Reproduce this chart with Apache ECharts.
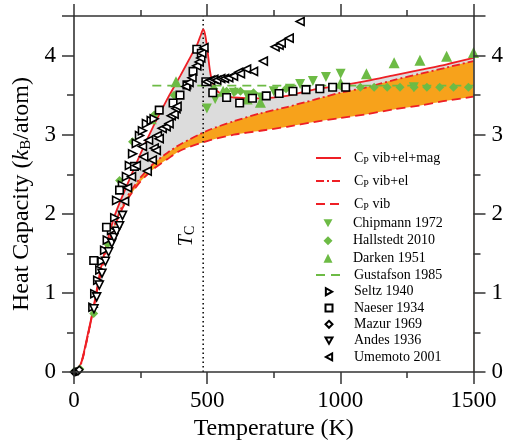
<!DOCTYPE html>
<html><head><meta charset="utf-8">
<script src="https://cdn.jsdelivr.net/npm/echarts@6/dist/echarts.min.js"></script>
<style>html,body{margin:0;padding:0;background:#fff}#c{width:506px;height:446px}</style>
</head><body><div id="c"></div>
<script>
// ---- curves ----
const tMag = [0,25,50,75,100,125,150,175,200,250,300,350,400,440,460,475,485,492,500,510,520,535,550,575,600,650,700,800,900,1000,1100,1200,1300,1400,1500];
const cMag = [0,0.1,0.45,0.85,1.3,1.65,1.95,2.17,2.37,2.76,3.12,3.45,3.75,4.0,4.12,4.25,4.33,4.27,4.1,3.82,3.66,3.56,3.52,3.48,3.47,3.46,3.46,3.49,3.57,3.62,3.68,3.75,3.82,3.89,3.97];
const tEl = [0,25,50,75,100,125,150,175,200,250,300,350,400,500,600,700,800,900,1000,1100,1200,1300,1400,1500];
const cEl = [0,0.09,0.43,0.83,1.25,1.58,1.84,2.05,2.22,2.46,2.64,2.77,2.88,3.05,3.17,3.27,3.35,3.44,3.53,3.6,3.69,3.77,3.85,3.93];
const tVib = [0,25,50,75,100,125,150,175,200,250,300,350,400,500,600,700,800,900,1000,1100,1200,1300,1400,1500];
const cVib = [0,0.09,0.43,0.83,1.25,1.57,1.82,2.02,2.18,2.41,2.57,2.69,2.8,2.92,3.0,3.05,3.1,3.16,3.21,3.26,3.32,3.37,3.43,3.48];
const tGus = [294,1500];
const cGus = [3.62,3.62];
const tCurie = [485,485];
const cCurie = [0,4.5];
// ---- measurements ----
const tChip = [499,530,600,650,703,750,811,849,897,946,1001,1276];
const cChip = [3.33,3.45,3.53,3.5,3.47,3.55,3.58,3.64,3.68,3.73,3.77,3.6];
const tHall = [2,22,74,126,171,220,301,376,525,573,606,625,674,796,1000,1075,1127,1176,1224,1277,1325,1373,1425,1481];
const cHall = [0.01,0.04,0.74,1.62,2.42,2.91,3.25,3.5,3.58,3.55,3.55,3.55,3.53,3.58,3.62,3.6,3.6,3.6,3.6,3.6,3.6,3.6,3.6,3.6];
const tDark = [290,383,560,650,700,1001,1098,1202,1299,1399,1500];
const cDark = [3.2,3.67,3.55,3.45,3.41,3.65,3.77,3.91,3.94,3.99,4.04];
const tSeltz = [71,78,89,97,105,115,125,141,153,160,182,197,208,220,234,246,257,272,290,301];
const cSeltz = [0.82,0.99,1.16,1.29,1.4,1.54,1.67,1.79,1.95,2.17,2.36,2.47,2.61,2.76,2.89,2.99,3.05,3.14,3.18,3.2];
const tNaes = [74,122,171,227,320,372,398,424,447,461,478,495,521,573,622,670,722,770,822,871,923,971,1020];
const cNaes = [1.41,1.83,2.3,2.6,3.31,3.4,3.5,3.63,3.8,4.08,4.03,3.67,3.53,3.47,3.4,3.46,3.49,3.52,3.55,3.57,3.58,3.6,3.6];
const tMaz = [0,3,6,10,15,20];
const cMaz = [0,0,0.002,0.005,0.01,0.03];
const tAndes = [75,85,95,105,118,130,142,150,160,171,182];
const cAndes = [0.8,0.95,1.1,1.25,1.4,1.52,1.63,1.7,1.78,1.85,1.98];
const tUme = [190,201,216,234,257,262,275,280,294,301,309,313,320,331,346,357,365,376,383,387,420,432,443,461,470,476,480,488,499,513,525,536,551,565,581,599,618,625,648,674,711,755,770,778,808,849];
const cUme = [2.16,2.33,2.47,2.61,2.85,2.72,2.54,2.93,2.68,2.83,2.8,2.99,2.95,3.08,3.1,3.14,3.24,3.26,3.33,3.36,3.61,3.66,3.72,3.87,3.92,3.97,4.03,4.1,3.67,3.69,3.7,3.69,3.71,3.71,3.72,3.74,3.79,3.77,3.83,3.8,3.93,4.11,4.13,4.16,4.22,4.43];
// tick labels
const xTicks = [0,500,1000,1500];
const yTicks = [0,1,2,3,4];

const pts = (xs, ys) => xs.map((x, i) => [x, ys[i]]);
const FONT = "'Liberation Serif','Times New Roman',serif";
const RED = '#ee1f25', GREEN = '#6dbb45', ORANGE = '#f7a21b', GRAY = '#dcdcdc';
const TRI_DOWN = 'path://M0,0 L10,0 L5,9 Z';
const TRI_LEFT = 'path://M9,0 L9,10 L0,5 Z';
const TRI_RIGHT = 'path://M0,0 L0,10 L9,5 Z';
const SM = 0.25;

const N_MAG = 'Cp vib+el+mag', N_EL = 'Cp vib+el', N_VIB = 'Cp vib';
const legendFmt = { [N_MAG]: 'C{s|P} vib+el+mag', [N_EL]: 'C{s|P} vib+el', [N_VIB]: 'C{s|P} vib' };

function fill(data, color, z) {
  return { type: 'line', data, smooth: SM, symbol: 'none', silent: true, z,
    lineStyle: { width: 0 }, areaStyle: { color, opacity: 1 } };
}
function curve(name, data, type, color) {
  return { name, type: 'line', data, smooth: SM, symbol: 'none', z: 5, silent: true,
    lineStyle: { color, width: 1.8, type }, itemStyle: { color } };
}
function hollow(name, data, symbol, size) {
  return { name, type: 'scatter', data, symbol, symbolSize: size, z: 6,
    itemStyle: { color: '#fff', borderColor: '#000', borderWidth: 1.6, opacity: 1 } };
}
function solid(name, data, symbol, size) {
  return { name, type: 'scatter', data, symbol, symbolSize: size, z: 6,
    itemStyle: { color: GREEN, opacity: 1 } };
}

const axisCommonX = {
  type: 'value', min: 0, max: 1500, interval: 500, z: 10,
  axisLine: { show: true, onZero: false, lineStyle: { color: '#333', width: 1.6 } },
  axisTick: { show: true, length: 12, lineStyle: { color: '#333', width: 1.5 } },
  minorTick: { show: true, splitNumber: 2, length: 6, lineStyle: { color: '#333', width: 1.5 } },
  splitLine: { show: false }, minorSplitLine: { show: false }
};
const axisCommonY = {
  type: 'value', min: 0, max: 4.5, interval: 1, z: 10,
  axisLine: { show: true, onZero: false, lineStyle: { color: '#333', width: 1.6 } },
  axisTick: { show: true, length: 12, lineStyle: { color: '#333', width: 1.5 } },
  minorTick: { show: true, splitNumber: 2, length: 7, lineStyle: { color: '#333', width: 1.5 } },
  splitLine: { show: false }, minorSplitLine: { show: false }
};
const lab = { fontSize: 23, fontFamily: FONT, color: '#000' };
const legText = (pad) => ({ fontSize: 14, fontFamily: FONT, color: '#000', lineHeight: 14, padding: [0, 0, 0, pad] });
const noSym = { color: 'rgba(0,0,0,0)', borderWidth: 0, borderColor: 'rgba(0,0,0,0)' };

const chart = echarts.init(document.getElementById('c'), null, { renderer: 'canvas' });
chart.setOption({
  animation: false,
  backgroundColor: '#fff',
  grid: { left: 74, right: 29, top: 16, bottom: 69 },
  xAxis: [
    Object.assign({}, axisCommonX, { position: 'bottom',
      axisLabel: Object.assign({ margin: 17, formatter: v => xTicks.includes(v) ? String(v) : '' }, lab),
      name: 'Temperature (K)', nameLocation: 'middle', nameGap: 42,
      nameTextStyle: { fontSize: 24, fontFamily: FONT, color: '#000' } }),
    Object.assign({}, axisCommonX, { position: 'top', axisLabel: { show: false } })
  ],
  yAxis: [
    Object.assign({}, axisCommonY, { position: 'left',
      axisLabel: Object.assign({ margin: 18, formatter: v => yTicks.includes(v) ? String(v) : '' }, lab),
      name: 'Heat Capacity ({i|k}{s|B}/atom)', nameLocation: 'middle', nameGap: 40,
      nameTextStyle: { fontSize: 24, fontFamily: FONT, color: '#000', lineHeight: 24,
        rich: { i: { fontSize: 24, fontStyle: 'italic', fontFamily: FONT, color: '#000', lineHeight: 24 },
                s: { fontSize: 15, fontFamily: FONT, color: '#000', lineHeight: 10, verticalAlign: 'bottom' } } } }),
    Object.assign({}, axisCommonY, { position: 'right',
      axisLabel: Object.assign({ margin: 18, formatter: v => yTicks.includes(v) ? String(v) : '' }, lab) })
  ],
  legend: [
    { orient: 'vertical', left: 315, top: 150, padding: 0, itemWidth: 25, itemHeight: 9, itemGap: 7,
      data: [N_MAG, N_EL, N_VIB], itemStyle: noSym,
      formatter: n => legendFmt[n] || n,
      textStyle: Object.assign(legText(8), { lineHeight: 16,
        rich: { s: { fontSize: 10, fontFamily: FONT, color: '#000', lineHeight: 8, verticalAlign: 'bottom' } } }) },
    { orient: 'vertical', left: 323.5, top: 216.3, padding: 0, itemWidth: 9, itemHeight: 9, itemGap: 3.5,
      data: ['Chipmann 1972', 'Hallstedt 2010', 'Darken 1951'],
      textStyle: legText(15.5) },
    { orient: 'vertical', left: 315, top: 268, padding: 0, itemWidth: 25, itemHeight: 9, itemGap: 0,
      data: ['Gustafson 1985'], itemStyle: noSym,
      textStyle: legText(8) },
    { orient: 'vertical', left: 324.5, top: 284.7, padding: 0, itemWidth: 7, itemHeight: 7, itemGap: 2.3,
      data: ['Seltz 1940', 'Naeser 1934', 'Mazur 1969', 'Andes 1936', 'Umemoto 2001'],
      textStyle: legText(16.5) }
  ],
  graphic: [{
    type: 'text', x: 187, y: 236, rotation: Math.PI / 2, z: 20,
    style: { text: '{t|T}{s|C}', align: 'center', verticalAlign: 'middle',
      rich: { t: { fontSize: 20, fontStyle: 'italic', fontFamily: FONT, fill: '#000', lineHeight: 20 },
              s: { fontSize: 14, fontFamily: FONT, fill: '#000', lineHeight: 10, verticalAlign: 'bottom' } } }
  }],
  series: [
    fill(pts(tMag, cMag), GRAY, 1),
    fill(pts(tEl, cEl), ORANGE, 2),
    fill(pts(tVib, cVib), '#ffffff', 3),
    { type: 'line', data: pts(tCurie, cCurie), symbol: 'none', silent: true, z: 4,
      lineStyle: { color: '#000', width: 1.5, type: [1.5, 3] } },
    curve(N_MAG, pts(tMag, cMag), 'solid', RED),
    curve(N_EL, pts(tEl, cEl), [8, 3, 2, 3], RED),
    curve(N_VIB, pts(tVib, cVib), [9, 5], RED),
    { name: 'Gustafson 1985', type: 'line', data: pts(tGus, cGus), symbol: 'none', z: 5, silent: true,
      lineStyle: { color: GREEN, width: 1.6, type: [9, 6] }, itemStyle: { color: GREEN } },
    solid('Chipmann 1972', pts(tChip, cChip), TRI_DOWN, 10),
    solid('Hallstedt 2010', pts(tHall, cHall), 'diamond', 9),
    solid('Darken 1951', pts(tDark, cDark), 'triangle', 11),
    hollow('Seltz 1940', pts(tSeltz, cSeltz), TRI_RIGHT, 8),
    hollow('Naeser 1934', pts(tNaes, cNaes), 'rect', 7.5),
    hollow('Mazur 1969', pts(tMaz, cMaz), 'diamond', 7),
    hollow('Andes 1936', pts(tAndes, cAndes), TRI_DOWN, 8),
    hollow('Umemoto 2001', pts(tUme, cUme), TRI_LEFT, 8)
  ]
});
</script></body></html>
